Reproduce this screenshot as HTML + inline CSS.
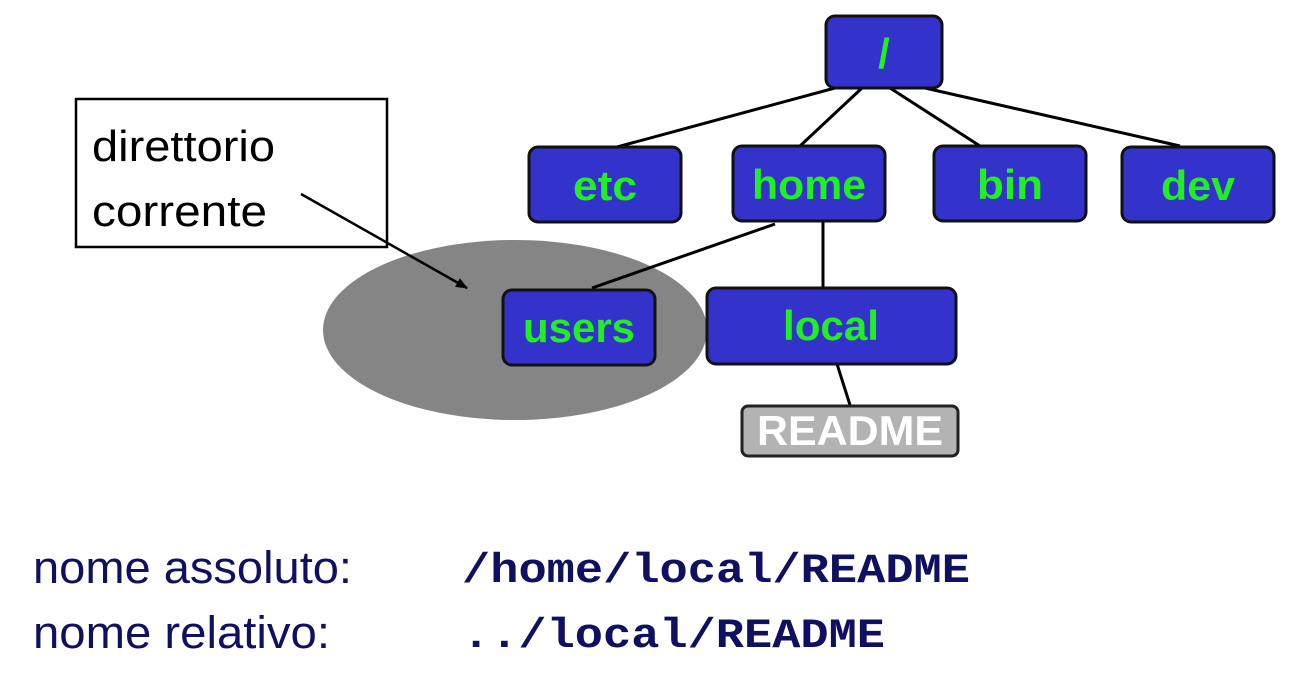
<!DOCTYPE html>
<html><head><meta charset="utf-8"><style>
html,body{margin:0;padding:0;background:#fff;width:1296px;height:687px;overflow:hidden}
</style></head><body>
<svg width="1296" height="687" viewBox="0 0 1296 687" xmlns="http://www.w3.org/2000/svg">
<defs><marker id="ar" markerWidth="12" markerHeight="10" refX="11" refY="5" orient="auto" markerUnits="userSpaceOnUse"><path d="M0,0 L12,5 L0,10 z" fill="#000"/></marker></defs>
<ellipse cx="515" cy="330" rx="192" ry="90" fill="#858585"/>
<g stroke="#000" stroke-width="3" fill="none">
<line x1="835" y1="88" x2="617" y2="147"/>
<line x1="862" y1="88" x2="800" y2="146"/>
<line x1="890" y1="88" x2="980" y2="146"/>
<line x1="925" y1="88" x2="1180" y2="146"/>
<line x1="775" y1="224" x2="592" y2="288"/>
<line x1="823" y1="222" x2="823" y2="288"/>
<line x1="837" y1="364" x2="850" y2="405"/>
</g>
<g fill="#3333cc" stroke="#111" stroke-width="3">
<rect x="826" y="16" width="116" height="72" rx="9"/>
<rect x="529" y="147" width="152" height="75" rx="9"/>
<rect x="733" y="146" width="152" height="75" rx="9"/>
<rect x="934" y="146" width="152" height="75" rx="9"/>
<rect x="1122" y="147" width="152" height="75" rx="9"/>
<rect x="503" y="290" width="152" height="75" rx="9"/>
<rect x="707" y="288" width="249" height="76" rx="9"/>
</g>
<rect x="742" y="406" width="216" height="50" rx="6" fill="#b3b3b3" stroke="#222" stroke-width="3"/>
<g font-family="Liberation Sans, sans-serif" font-weight="bold" font-size="42" fill="#22ee22" text-anchor="middle" lengthAdjust="spacingAndGlyphs">
<text x="884" y="68">/</text>
<text x="605" y="200" textLength="64" lengthAdjust="spacingAndGlyphs">etc</text>
<text x="809" y="199" textLength="114" lengthAdjust="spacingAndGlyphs">home</text>
<text x="1010" y="199" textLength="66" lengthAdjust="spacingAndGlyphs">bin</text>
<text x="1198" y="200" textLength="74" lengthAdjust="spacingAndGlyphs">dev</text>
<text x="579" y="342" textLength="112" lengthAdjust="spacingAndGlyphs">users</text>
<text x="831" y="340" textLength="96" lengthAdjust="spacingAndGlyphs">local</text>
<text x="850" y="445" fill="#fff" textLength="186" lengthAdjust="spacingAndGlyphs">README</text>
</g>
<rect x="76" y="99" width="311" height="148" fill="#fff" stroke="#000" stroke-width="2.5"/>
<g font-family="Liberation Sans, sans-serif" font-size="44" fill="#000">
<text x="92" y="161" textLength="183" lengthAdjust="spacingAndGlyphs">direttorio</text>
<text x="92" y="226" textLength="175" lengthAdjust="spacingAndGlyphs">corrente</text>
</g>
<line x1="301" y1="194" x2="467" y2="288" stroke="#000" stroke-width="2.5" marker-end="url(#ar)"/>
<g font-family="Liberation Sans, sans-serif" font-size="45" fill="#101060">
<text x="33" y="583" textLength="319" lengthAdjust="spacingAndGlyphs">nome assoluto:</text>
<text x="33" y="648" textLength="297" lengthAdjust="spacingAndGlyphs">nome relativo:</text>
</g>
<g font-family="Liberation Mono, monospace" font-weight="bold" font-size="42" fill="#101060">
<text x="462" y="582" textLength="508" lengthAdjust="spacingAndGlyphs">/home/local/README</text>
<text x="462" y="647" textLength="423" lengthAdjust="spacingAndGlyphs">../local/README</text>
</g>
</svg>
</body></html>
